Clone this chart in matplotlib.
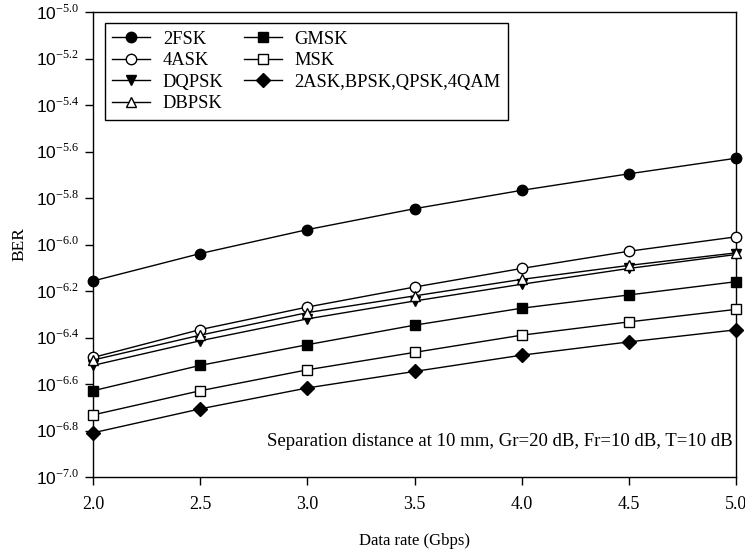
import numpy as np
import matplotlib
matplotlib.use("Agg")
import matplotlib.pyplot as plt
from matplotlib.ticker import FixedLocator, FixedFormatter

plt.rcParams['font.family'] = ['Liberation Serif', 'DejaVu Serif']
plt.rcParams['mathtext.fontset'] = 'custom'
plt.rcParams['mathtext.rm'] = 'Liberation Serif'
plt.rcParams['mathtext.sf'] = 'Liberation Sans'

# Data (log10 of BER)
data_rate = [2.0, 2.5, 3.0, 3.5, 4.0, 4.5, 5.0]
log_2fsk = [-6.157, -6.039, -5.936, -5.846, -5.767, -5.696, -5.629]
log_4ask = [-6.486, -6.366, -6.269, -6.183, -6.103, -6.029, -5.967]
log_dqpsk = [-6.520, -6.414, -6.320, -6.243, -6.171, -6.103, -6.043]
log_dbpsk = [-6.497, -6.390, -6.293, -6.221, -6.150, -6.090, -6.036]
log_gmsk = [-6.629, -6.520, -6.431, -6.347, -6.274, -6.217, -6.160]
log_msk = [-6.733, -6.629, -6.539, -6.464, -6.390, -6.333, -6.279]
log_ask = [-6.810, -6.707, -6.617, -6.546, -6.476, -6.419, -6.367]

series_labels = ['2FSK', '4ASK', 'DQPSK', 'DBPSK', 'GMSK', 'MSK', '2ASK,BPSK,QPSK,4QAM']
series_values = [log_2fsk, log_4ask, log_dqpsk, log_dbpsk, log_gmsk, log_msk, log_ask]
series_markers = ['o', 'o', 'v', '^', 's', 's', 'D']
series_fill = ['black', 'white', 'black', 'white', 'black', 'white', 'black']
series_msize = [7.5, 7.5, 7.5, 7.5, 7, 7, 7]

ytick_exponents = ['-7.0', '-6.8', '-6.6', '-6.4', '-6.2', '-6.0', '-5.8', '-5.6', '-5.4', '-5.2', '-5.0']
xtick_values = [2.0, 2.5, 3.0, 3.5, 4.0, 4.5, 5.0]
xtick_labels = ['2.0', '2.5', '3.0', '3.5', '4.0', '4.5', '5.0']

fig = plt.figure(figsize=(7.45, 5.5), dpi=100)
ax = fig.add_axes([93/745, 1-477/550, (736-93)/745, (477-12)/550])

for lab, vals, mk, fc, ms in zip(series_labels, series_values, series_markers, series_fill, series_msize):
    ax.plot(data_rate, [10**v for v in vals], color='black', lw=1.0, marker=mk,
            markersize=ms, markerfacecolor=fc, markeredgecolor='black',
            markeredgewidth=1.0, label=lab, clip_on=False, zorder=3)

ax.set_yscale('log')
ax.set_ylim(10**-7.0, 10**-5.0)
ax.set_xlim(2.0, 5.0)

ytick_pos = [10**float(e) for e in ytick_exponents]
ax.yaxis.set_major_locator(FixedLocator(ytick_pos))
ax.yaxis.set_major_formatter(FixedFormatter([r'$\mathsf{10}^{%s}$' % e for e in ytick_exponents]))
ax.yaxis.set_minor_locator(FixedLocator([]))
ax.set_xticks(xtick_values)
ax.set_xticklabels(xtick_labels)

ax.tick_params(axis='y', direction='out', length=6, width=1, labelsize=12.5, pad=4)
ax.tick_params(axis='x', direction='out', length=6, width=1, labelsize=13, pad=8)
for sp in ax.spines.values():
    sp.set_linewidth(1.0)

ax.set_xlabel('Data rate (Gbps)', fontsize=12, labelpad=14)
ax.set_ylabel('BER', fontsize=12.5, labelpad=6)

ax.text(0.995, 0.077, 'Separation distance at 10 mm, Gr=20 dB, Fr=10 dB, T=10 dB',
        transform=ax.transAxes, ha='right', va='center', fontsize=13.5)

leg = ax.legend(loc='upper left', ncol=2, bbox_to_anchor=(0.018, 0.976), fontsize=13.3,
                frameon=True, fancybox=False, edgecolor='black', framealpha=1,
                handlelength=2.05, handletextpad=0.7, columnspacing=1.1,
                labelspacing=0.25, borderpad=0.4, borderaxespad=0)
leg.get_frame().set_linewidth(1.0)

fig.savefig('out.png', dpi=100)
